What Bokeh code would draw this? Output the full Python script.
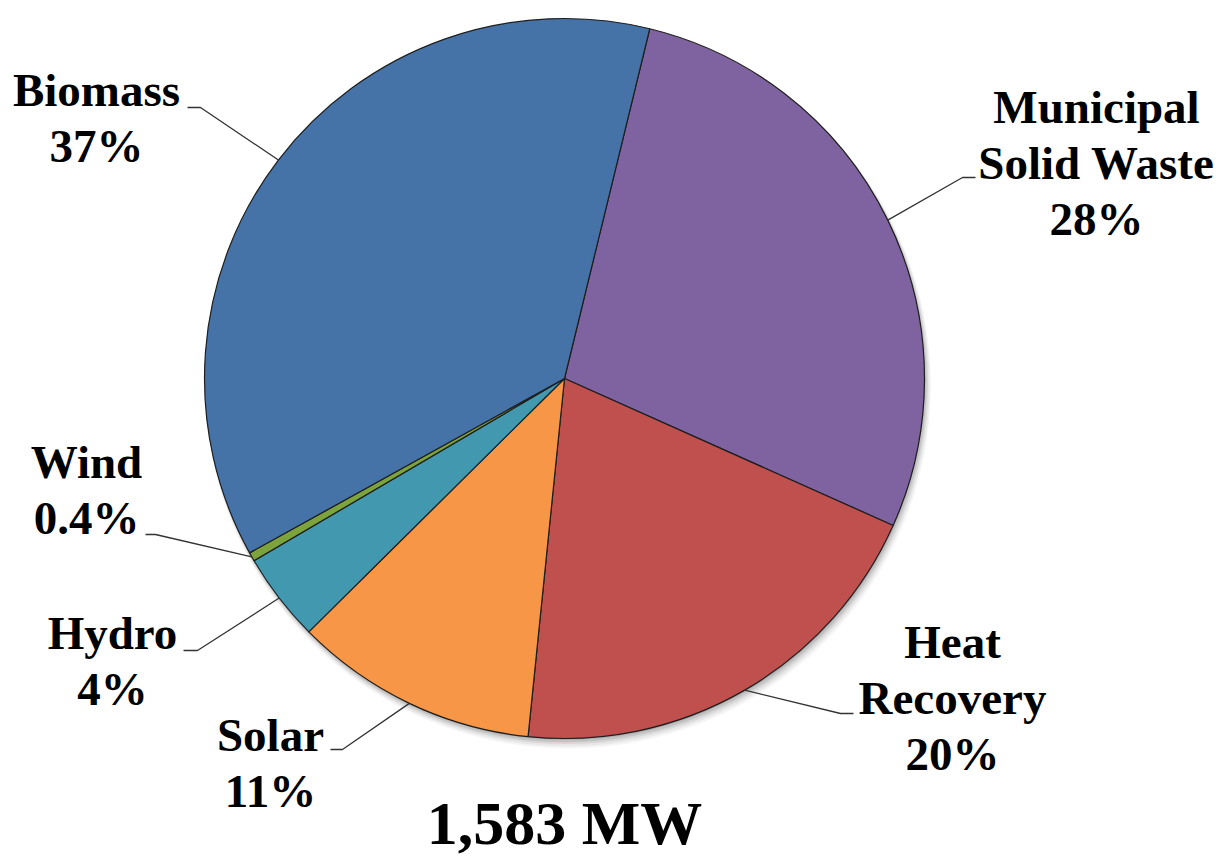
import math
from bokeh.plotting import figure
from bokeh.models import Range1d, ColumnDataSource
from bokeh.core.properties import value
from bokeh.embed import file_html
from bokeh.resources import INLINE

# ---------------- data ----------------
categories = ["Municipal\nSolid Waste", "Heat\nRecovery", "Solar", "Hydro", "Wind", "Biomass"]
shares = [28, 20, 11, 4, 0.4, 37]
pct_labels = ["28%", "20%", "11%", "4%", "0.4%", "37%"]
colors = ["#7F62A0", "#C0504D", "#F79646", "#4198AF", "#7DA33C", "#4572A7"]
total_label = "1,583 MW"

# ---------------- layout (pixel coordinates, y down) ----------------
W, H = 1220, 858
CX, CY, R = 564, 378, 360
START = 13.7  # degrees clockwise from 12 o'clock
FONT = "Liberation Serif"
LINE_H = 56
LBL_SIZE = 47
TXT_SHIFT = 16     # compensation for baseline placement
TITLE_SHIFT = 26
# label centre x, first baseline y (px), and leader attach point / elbow (px)
label_layout = {
    "Municipal\nSolid Waste": dict(x=1096, y=122, attach=(975, 177), elbow=(962, 177)),
    "Heat\nRecovery": dict(x=952, y=657, attach=(853, 713), elbow=(840, 713)),
    "Solar": dict(x=270, y=750, attach=(330, 749), elbow=(342, 749)),
    "Hydro": dict(x=112, y=648, attach=(183, 650), elbow=(197, 650)),
    "Wind": dict(x=86, y=477, attach=(145, 534), elbow=(155, 534)),
    "Biomass": dict(x=96, y=105, attach=(187, 107), elbow=(200, 107)),
}


def Y(py):
    return H - py


p = figure(width=W, height=H, output_backend="svg", toolbar_location=None,
           x_range=Range1d(0, W), y_range=Range1d(0, H), min_border=0)
p.axis.visible = False
p.grid.visible = False
p.outline_line_color = None
p.background_fill_color = "white"
p.border_fill_color = "white"

# soft shadow
for i, a in enumerate([0.04, 0.05, 0.07, 0.09, 0.11]):
    off = 7 - i * 1.3
    p.circle(x=[CX + off * 0.5], y=[Y(CY) - off], radius=R + 3 - i * 0.8, fill_color="#000000",
             fill_alpha=a, line_color=None)

tot = sum(shares)
starts, ends, mids = [], [], []
acc = START
for s in shares:
    d = s / tot * 360.0
    starts.append(acc)
    ends.append(acc + d)
    mids.append(acc + d / 2)
    acc += d

src = ColumnDataSource(dict(
    x=[CX] * len(shares), y=[Y(CY)] * len(shares),
    start=[math.radians(90 - e) for e in ends],
    end=[math.radians(90 - s) for s in starts],
    color=colors,
))
p.wedge(x="x", y="y", radius=R, start_angle="start", end_angle="end",
        fill_color="color", line_color="#1E1E1E", line_width=1.2, source=src)

# labels and leaders
for cat, pct, mid in zip(categories, pct_labels, mids):
    lay = label_layout[cat]
    lines = cat.split("\n") + [pct]
    for k, t in enumerate(lines):
        p.text(x=[lay["x"]], y=[Y(lay["y"] + k * LINE_H - TXT_SHIFT)], text=[t],
               text_font=value(FONT), text_font_style="bold", text_font_size=f"{LBL_SIZE}px",
               text_align="center", text_baseline="alphabetic", text_color="#000000")
    ex = CX + R * math.sin(math.radians(mid))
    ey = CY - R * math.cos(math.radians(mid))
    ax, ay = lay["attach"]
    bx, by = lay["elbow"]
    p.line(x=[ax, bx, ex], y=[Y(ay), Y(by), Y(ey)], line_color="#333333", line_width=1.3)

p.text(x=[CX], y=[Y(848 - TITLE_SHIFT)], text=[total_label], text_font=value(FONT),
       text_font_style="bold", text_font_size="62px", text_align="center",
       text_baseline="alphabetic", text_color="#000000")

open("out.html", "w").write(file_html(p, INLINE))
